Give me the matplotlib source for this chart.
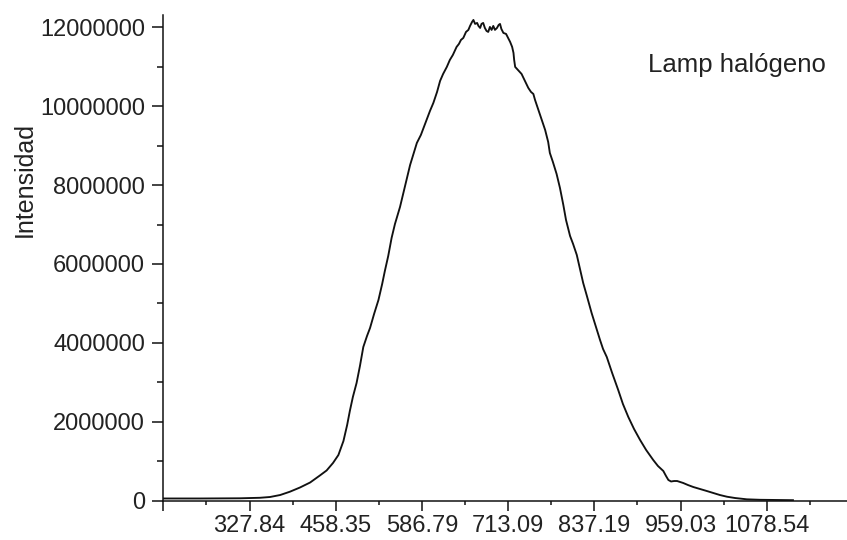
import matplotlib
matplotlib.use("Agg")
import matplotlib.pyplot as plt
from matplotlib.ticker import FixedLocator, MultipleLocator, FixedFormatter

plt.rcParams["font.family"] = ["Liberation Sans", "DejaVu Sans"]

# Detector pixel index and measured counts for the halogen lamp spectrum
pixel = [
    0, 109, 228, 287, 317, 347, 376, 406, 436, 465, 485, 504, 520, 535, 546,
    554, 563, 574, 584, 594, 605, 614, 626, 639, 650, 658, 668, 678, 688, 703,
    718, 733, 742, 753, 765, 782, 792, 802, 813, 822, 831, 842, 851, 860, 871,
    878, 884, 891, 899, 906, 911, 917, 921, 926, 932, 936, 941, 945, 950, 955,
    960, 965, 970, 975, 980, 985, 991, 996, 1000, 1004, 1010, 1018, 1024, 1030,
    1036, 1040, 1042, 1045, 1053, 1064, 1074, 1084, 1092, 1099, 1104, 1114,
    1122, 1134, 1143, 1148, 1157, 1168, 1178, 1188, 1196, 1208, 1217, 1228,
    1238, 1247, 1258, 1272, 1285, 1297, 1306, 1317, 1333, 1351, 1365, 1381,
    1398, 1416, 1434, 1455, 1469, 1485, 1493, 1500, 1508, 1517, 1526, 1535,
    1544, 1558, 1574, 1594, 1614, 1633, 1653, 1674, 1698, 1733, 1772, 1817,
    1870,
]
intensity = [
    56000, 56000, 61000, 74000, 94000, 144000, 228000, 335000, 461000, 639000,
    766000, 956000, 1158000, 1513000, 1919000, 2274000, 2629000, 2984000,
    3415000, 3896000, 4175000, 4378000, 4733000, 5088000, 5493000, 5823000,
    6203000, 6659000, 7014000, 7445000, 7977000, 8510000, 8763000, 9067000,
    9270000, 9650000, 9879000, 10081000, 10360000, 10639000, 10816000,
    10994000, 11171000, 11298000, 11501000, 11577000, 11678000, 11729000,
    11881000, 11932000, 12033000, 12135000, 12185000, 12084000, 12109000,
    12033000, 11982000, 12084000, 12109000, 11982000, 11906000, 11881000,
    12008000, 11932000, 12033000, 11932000, 11982000, 12059000, 12084000,
    11957000, 11856000, 11830000, 11729000, 11628000, 11501000, 11349000,
    11171000, 10994000, 10918000, 10816000, 10639000, 10462000, 10360000,
    10309000, 10157000, 9904000, 9701000, 9397000, 9093000, 8814000, 8586000,
    8282000, 7927000, 7496000, 7115000, 6710000, 6507000, 6228000, 5848000,
    5518000, 5189000, 4758000, 4403000, 4074000, 3845000, 3643000, 3237000,
    2806000, 2451000, 2122000, 1818000, 1539000, 1285000, 1032000, 880000,
    753000, 626000, 525000, 487000, 499000, 499000, 474000, 449000, 398000,
    347000, 297000, 246000, 195000, 144000, 101000, 68000, 35000, 23000,
    18000, 13000,
]

# Wavelength calibration shown at the major pixel ticks
tick_pixels = [0, 256, 512, 768, 1024, 1280, 1536, 1792]
tick_labels = ["", "327.84", "458.35", "586.79", "713.09", "837.19",
               "959.03", "1078.54"]
y_ticks = [0, 2000000, 4000000, 6000000, 8000000, 10000000, 12000000]

W, H = 847, 540
fig = plt.figure(figsize=(W / 100, H / 100), dpi=100)
fig.patch.set_facecolor("white")

left_px, right_px, bottom_px, top_px = 163.3, 852.9, 500.7, 15.0
ax = fig.add_axes([left_px / W, (H - bottom_px) / H,
                   (right_px - left_px) / W, (bottom_px - top_px) / H])
ax.set_facecolor("white")

ax.plot(pixel, intensity, color="#111111", lw=1.35, solid_joinstyle="round")

ax.set_xlim(0, 2048)
ax.set_ylim(0, 12.31e6)

for side in ("top", "right"):
    ax.spines[side].set_visible(False)
for side in ("left", "bottom"):
    ax.spines[side].set_linewidth(1.1)
    ax.spines[side].set_color("#111111")

ax.xaxis.set_major_locator(FixedLocator(tick_pixels))
ax.xaxis.set_major_formatter(FixedFormatter(tick_labels))
ax.xaxis.set_minor_locator(MultipleLocator(128))
ax.yaxis.set_major_locator(FixedLocator(y_ticks))
ax.yaxis.set_major_formatter(FixedFormatter([str(v) for v in y_ticks]))
ax.yaxis.set_minor_locator(MultipleLocator(1000000))

ax.tick_params(axis="x", which="major", direction="out", length=7, width=1.1,
               pad=3, labelsize=17, colors="#111111", labelcolor="#222222")
ax.tick_params(axis="x", which="minor", direction="out", length=3, width=1.1,
               colors="#111111")
ax.tick_params(axis="y", which="major", direction="out", length=8, width=1.1,
               pad=5, labelsize=17, colors="#111111", labelcolor="#222222")
ax.tick_params(axis="y", which="minor", direction="out", length=4, width=1.1,
               colors="#111111")

fig.text(31.7 / W, 1 - 180 / H, "Intensidad", rotation=90,
         rotation_mode="anchor", ha="center", va="baseline",
         fontsize=18, color="#222222")
fig.text(648 / W, 1 - 72 / H, "Lamp halógeno", ha="left", va="baseline",
         fontsize=18.5, color="#222222")

fig.savefig("out.png", dpi=100, facecolor="white")
